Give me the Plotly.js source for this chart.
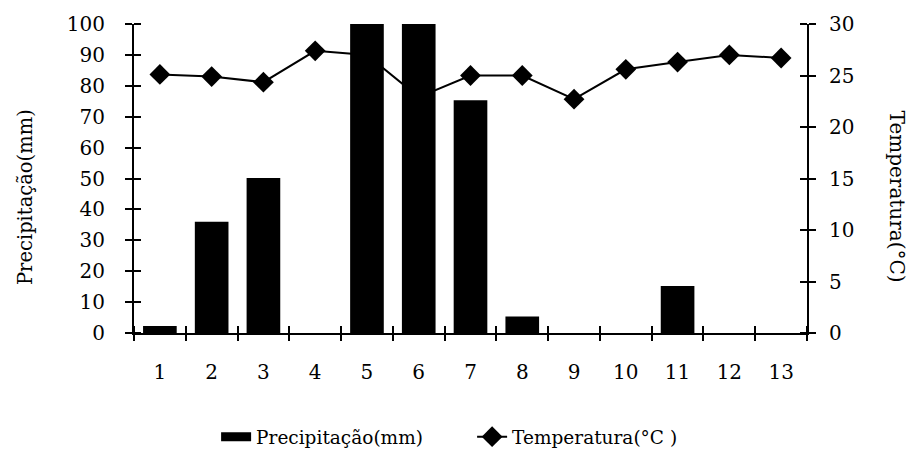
<!DOCTYPE html>
<html>
<head>
<meta charset="utf-8">
<script src="https://cdn.plot.ly/plotly-3.0.1.min.js"></script>
<style>html,body{margin:0;padding:0;background:#fff;}#chart{width:909px;height:458px;}</style>
</head>
<body>
<div id="chart"></div>
<script>
const categories = [1,2,3,4,5,6,7,8,9,10,11,12,13];
const tickLabels = ['1','2','3','4','5','6','7','8','9','10','11','12','13'];
const precipitation = [2.3, 36, 50.2, 0, 130, 115, 75.3, 5.3, 0, 0, 15.2, 0, 0];
const temperature = [25.1, 24.9, 24.35, 27.4, 27.0, 22.9, 25.0, 25.0, 22.7, 25.6, 26.3, 27.0, 26.7];
const precipLabel = 'Precipitação(mm)';
const tempLabel = 'Temperatura(°C )';
const leftTitle = 'Precipitação(mm)';
const rightTitle = 'Temperatura(°C)';

const FONT = 'DejaVu Serif, Liberation Serif, serif';

const traces = [
  {
    type: 'scatter', mode: 'lines+markers', name: tempLabel,
    x: categories, y: temperature, xaxis: 'x', yaxis: 'y',
    line: {color: '#000', width: 2},
    marker: {symbol: 'diamond', size: 16, color: '#000'},
    cliponaxis: false, legendrank: 2
  },
  {
    type: 'bar', name: precipLabel, showlegend: false,
    x: categories, y: precipitation, xaxis: 'x', yaxis: 'y2',
    marker: {color: '#000', line: {width: 0}}, width: 0.65
  },
  {
    // legend key only (no drawable point): wide black block like the reference key
    type: 'scatter', mode: 'lines', name: precipLabel, x: [null], y: [null], xaxis: 'x', yaxis: 'y2',
    line: {color: '#000', width: 9}, legendrank: 1, hoverinfo: 'skip'
  },
  {type: 'scatter', mode: 'lines', x: [null], y: [null], xaxis: 'x2', yaxis: 'y', showlegend: false, hoverinfo: 'skip'}
];

const common = {showgrid: false, zeroline: false, color: '#000'};
const tickStyle = {ticklen: 7, tickwidth: 2, tickcolor: '#000'};
const layout = {
  width: 909, height: 458,
  margin: {l: 134, r: 102, t: 24, b: 125, autoexpand: false},
  paper_bgcolor: '#fff', plot_bgcolor: '#fff',
  font: {family: FONT, color: '#000', size: 20},
  showlegend: true,
  legend: {orientation: 'h', x: 0.122, xanchor: 'left', y: -0.337, yanchor: 'middle',
           font: {family: FONT, size: 18.5, color: '#000'}, itemwidth: 30,
           entrywidth: 211, entrywidthmode: 'pixels', bgcolor: 'rgba(0,0,0,0)'},
  xaxis: Object.assign({}, common, {
    type: 'linear', range: [0.5, 13.5], tickvals: categories, ticktext: tickLabels,
    ticks: '', showline: true, linewidth: 2, linecolor: '#000', ticklabelstandoff: 20,
    tickfont: {family: FONT, size: 20}, anchor: 'y'
  }),
  xaxis2: Object.assign({}, common, tickStyle, {
    overlaying: 'x', anchor: 'y', type: 'linear', range: [0.5, 13.5], tickmode: 'linear', tick0: 0.5, dtick: 1,
    ticks: 'outside', showticklabels: false, showline: false,
    minor: Object.assign({ticks: 'inside', tickmode: 'linear', tick0: 0.5, dtick: 1}, tickStyle)
  }),
  yaxis: Object.assign({}, common, tickStyle, {
    side: 'right', range: [0, 30], dtick: 5, tick0: 0, ticks: 'outside',
    showline: true, linewidth: 2, linecolor: '#000', anchor: 'x',
    ticklabelstandoff: 9, tickfont: {family: FONT, size: 20},
    minor: Object.assign({ticks: 'inside', dtick: 5, tick0: 0}, tickStyle)
  }),
  yaxis2: Object.assign({}, common, tickStyle, {
    side: 'left', overlaying: 'y', range: [0, 100], dtick: 10, tick0: 0, ticks: 'outside',
    showline: true, linewidth: 2, linecolor: '#000', anchor: 'x',
    ticklabelstandoff: 16, tickfont: {family: FONT, size: 20},
    minor: Object.assign({ticks: 'inside', dtick: 10, tick0: 0}, tickStyle)
  }),
  annotations: [
    {text: leftTitle, xref: 'paper', yref: 'paper', x: -0.162, y: 0.44, textangle: -90,
     showarrow: false, xanchor: 'center', yanchor: 'middle', font: {family: FONT, size: 19.5, color: '#000'}},
    {text: rightTitle, xref: 'paper', yref: 'paper', x: 1.133, y: 0.443, textangle: 90,
     showarrow: false, xanchor: 'center', yanchor: 'middle', font: {family: FONT, size: 20, color: '#000'}}
  ]
};

Plotly.newPlot('chart', traces, layout, {displayModeBar: false, staticPlot: true});
</script>
</body>
</html>
